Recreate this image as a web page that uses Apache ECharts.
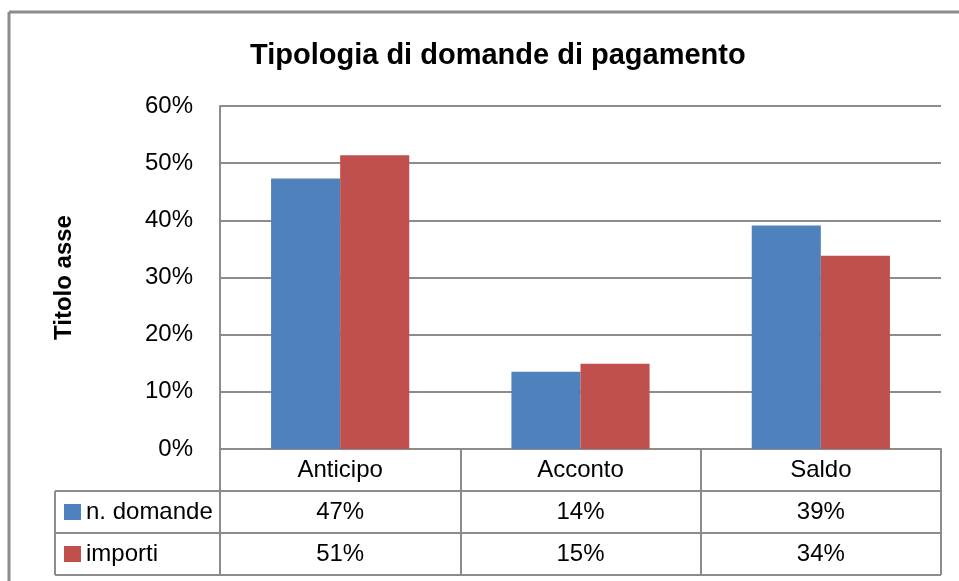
<!DOCTYPE html>
<html>
<head>
<meta charset="utf-8">
<script src="https://cdn.jsdelivr.net/npm/echarts@6/dist/echarts.min.js"></script>
<style>
  html, body { margin: 0; padding: 0; background: #fff; }
  #chart { width: 959px; height: 581px; }
</style>
</head>
<body>
<div id="chart"></div>
<script>
const categories = ['Anticipo', 'Acconto', 'Saldo']
const domande = [47.3, 13.5, 39.1]
const importi = [51.4, 14.9, 33.8]
const seriesNames = ['n. domande', 'importi']
const colors = ['#4F81BD', '#C0504D']

const FONT = '"Liberation Sans Narrow", "Liberation Sans", Arial, sans-serif'
const GRID_COLOR = '#8C8C8C'
const pct = v => Math.round(v) + '%'

// table geometry (layout only)
const plotLeft = 220
const plotRight = 941
const rowH = 42
const axisY = 449
const tableLeft = 55

const chart = echarts.init(document.getElementById('chart'))

const hLine = y => ({
  type: 'line',
  shape: { x1: tableLeft, y1: y, x2: plotRight, y2: y },
  style: { stroke: GRID_COLOR, lineWidth: 2 }
})

// one legend per table row
const legendRow = (name, row) => ({
  orient: 'vertical',
  left: 64,
  top: axisY + rowH * row + 9,
  padding: 0,
  itemWidth: 17,
  itemHeight: 16,
  icon: 'rect',
  selectedMode: false,
  textStyle: { fontFamily: FONT, fontSize: 24, color: '#000', lineHeight: 16 },
  data: [name]
})

chart.setOption({
  animation: false,
  color: colors,
  textStyle: { fontFamily: FONT },
  title: {
    text: 'Tipologia di domande di pagamento',
    left: 245,
    top: 36,
    textStyle: { fontFamily: FONT, fontSize: 29, fontWeight: 'bold', color: '#000' }
  },
  legend: [legendRow(seriesNames[0], 1), legendRow(seriesNames[1], 2)],
  grid: {
    left: plotLeft,
    right: 959 - plotRight,
    top: 106,
    bottom: 581 - axisY,
    containLabel: false
  },
  xAxis: {
    type: 'category',
    data: categories,
    axisLine: { lineStyle: { color: GRID_COLOR, width: 2 } },
    axisTick: { show: true, length: rowH * 3, lineStyle: { color: GRID_COLOR, width: 2 } },
    axisLabel: {
      margin: 0,
      interval: 0,
      formatter: (value, idx) => `{c|${value}}\n{v|${pct(domande[idx])}}\n{v|${pct(importi[idx])}}`,
      rich: {
        c: { fontFamily: FONT, fontSize: 24, color: '#000', lineHeight: rowH, height: rowH },
        v: { fontFamily: FONT, fontSize: 24, color: '#000', lineHeight: rowH, height: rowH }
      }
    }
  },
  yAxis: {
    type: 'value',
    min: 0,
    max: 60,
    interval: 10,
    name: 'Titolo asse',
    nameLocation: 'middle',
    nameGap: 144,
    nameRotate: 90,
    nameTextStyle: { fontFamily: FONT, fontSize: 24, fontWeight: 'bold', color: '#000' },
    axisLine: { show: true, lineStyle: { color: GRID_COLOR, width: 2 } },
    axisTick: { show: false },
    axisLabel: {
      formatter: v => v + '%',
      margin: 27,
      fontFamily: FONT,
      fontSize: 24,
      color: '#000'
    },
    splitLine: { lineStyle: { color: GRID_COLOR, width: 2 } }
  },
  series: [
    {
      name: seriesNames[0],
      type: 'bar',
      data: domande,
      barGap: '0%',
      barCategoryGap: '42.5%'
    },
    {
      name: seriesNames[1],
      type: 'bar',
      data: importi,
      barGap: '0%',
      barCategoryGap: '42.5%'
    }
  ],
  graphic: [
    // outer chart frame
    { type: 'line', shape: { x1: 9, y1: 12, x2: 959, y2: 12 }, style: { stroke: GRID_COLOR, lineWidth: 3 } },
    { type: 'line', shape: { x1: 9, y1: 12, x2: 9, y2: 581 }, style: { stroke: GRID_COLOR, lineWidth: 3 } },
    // data table
    hLine(axisY + rowH),
    hLine(axisY + rowH * 2),
    hLine(axisY + rowH * 3),
    {
      type: 'line',
      shape: { x1: tableLeft, y1: axisY + rowH, x2: tableLeft, y2: axisY + rowH * 3 },
      style: { stroke: GRID_COLOR, lineWidth: 2 }
    },
    {
      type: 'line',
      shape: { x1: plotLeft, y1: axisY, x2: plotLeft, y2: axisY + rowH * 3 },
      style: { stroke: GRID_COLOR, lineWidth: 2 }
    }
  ]
})
</script>
</body>
</html>
